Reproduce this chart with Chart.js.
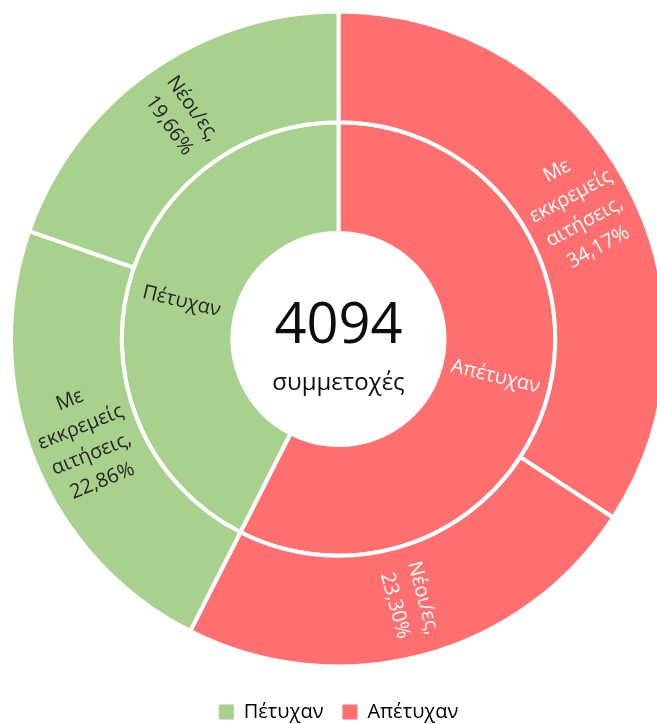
<!DOCTYPE html>
<html>
<head>
<meta charset="utf-8">
<script src="https://cdn.jsdelivr.net/npm/chart.js@4"></script>
<style>
    html, body { margin: 0; padding: 0; background: #fff; overflow: hidden; width: 657px; height: 724px; }
    #wrap { position: relative; width: 657px; height: 724px; overflow: hidden; }
    #chart { position: absolute; left: 9px; top: -5px; }
</style>
</head>
<body>
<div id="wrap"><canvas id="chart" width="659" height="745"></canvas></div>
<script>
// inner ring
const groups = ['Απέτυχαν', 'Πέτυχαν'];
const groupValues = [57.47, 42.52];
// outer ring
const subCategories = ['Με εκκρεμείς αιτήσεις', 'Νέοι/ες', 'Με εκκρεμείς αιτήσεις', 'Νέοι/ες'];
const subGroups = ['Απέτυχαν', 'Απέτυχαν', 'Πέτυχαν', 'Πέτυχαν'];
const subValues = [34.17, 23.30, 22.86, 19.66];
const legendLabels = ['Πέτυχαν', 'Απέτυχαν'];
const totalEntries = '4094';
const centerCaption = 'συμμετοχές';

const colors = { 'Πέτυχαν': '#a9d18e', 'Απέτυχαν': '#ff6f6f' };
const textColors = { 'Πέτυχαν': '#262626', 'Απέτυχαν': '#ffffff' };
const FONT = '"Open Sans", "Noto Sans", sans-serif';

function pct(v) {
    return v.toFixed(2).replace('.', ',') + '%';
}

// labels written along the radius, flipped on the left half so they stay readable
const ringLabels = {
    id: 'ringLabels',
    afterDatasetsDraw(chart) {
        const ctx = chart.ctx;
        ctx.save();
        ctx.textAlign = 'center';
        ctx.textBaseline = 'middle';
        ctx.font = '20px ' + FONT;
        const lineHeight = 29;
        chart.data.datasets.forEach((ds, di) => {
            const meta = chart.getDatasetMeta(di);
            meta.data.forEach((arc, i) => {
                const p = arc.getProps(['x', 'y', 'startAngle', 'endAngle', 'innerRadius', 'outerRadius'], true);
                const mid = (p.startAngle + p.endAngle) / 2;
                const r = (p.innerRadius + p.outerRadius) / 2;
                const lx = p.x + Math.cos(mid) * r;
                const ly = p.y + Math.sin(mid) * r;
                const rot = Math.cos(mid) >= 0 ? mid : mid + Math.PI;
                const lines = ds.labelLines[i];
                ctx.save();
                ctx.translate(lx, ly);
                ctx.rotate(rot);
                ctx.fillStyle = ds.textColor[i];
                lines.forEach((t, k) => {
                    ctx.fillText(t, 0, (k - (lines.length - 1) / 2) * lineHeight);
                });
                ctx.restore();
            });
        });
        ctx.restore();
    }
};

const centerText = {
    id: 'centerText',
    afterDraw(chart) {
        const arc = chart.getDatasetMeta(0).data[0];
        if (!arc) return;
        const ctx = chart.ctx;
        ctx.save();
        ctx.textAlign = 'center';
        ctx.textBaseline = 'alphabetic';
        ctx.fillStyle = '#0d0d0d';
        ctx.font = '56px ' + FONT;
        ctx.fillText(totalEntries, arc.x, arc.y + 4);
        ctx.font = '24px ' + FONT;
        ctx.fillText(centerCaption, arc.x, arc.y + 51);
        ctx.restore();
    }
};

const ctx = document.getElementById('chart').getContext('2d');
new Chart(ctx, {
    type: 'doughnut',
    data: {
        labels: subCategories,
        datasets: [{
            label: 'outer',
            data: subValues,
            backgroundColor: subGroups.map(g => colors[g]),
            textColor: subGroups.map(g => textColors[g]),
            labelLines: subCategories.map((c, i) => [...(c + ',').split(' '), pct(subValues[i])]),
            borderColor: '#ffffff',
            borderWidth: 4,
        }, {
            label: 'inner',
            data: groupValues,
            backgroundColor: groups.map(g => colors[g]),
            textColor: groups.map(g => textColors[g]),
            labelLines: groups.map(g => [g]),
            borderColor: '#ffffff',
            borderWidth: 4,
        }]
    },
    options: {
        responsive: false,
        animation: false,
        cutout: 106,
        layout: { padding: { bottom: 8 } },
        plugins: {
            tooltip: { enabled: false },
            legend: {
                position: 'bottom',
                onClick: null,
                labels: {
                    boxWidth: 15,
                    boxHeight: 15,
                    padding: 19,
                    color: '#595959',
                    font: { size: 20, family: FONT },
                    generateLabels: () => legendLabels.map(l => ({
                        text: l,
                        fillStyle: colors[l],
                        strokeStyle: colors[l],
                        lineWidth: 0,
                        hidden: false,
                    }))
                }
            }
        }
    },
    plugins: [ringLabels, centerText]
});
</script>
</body>
</html>
